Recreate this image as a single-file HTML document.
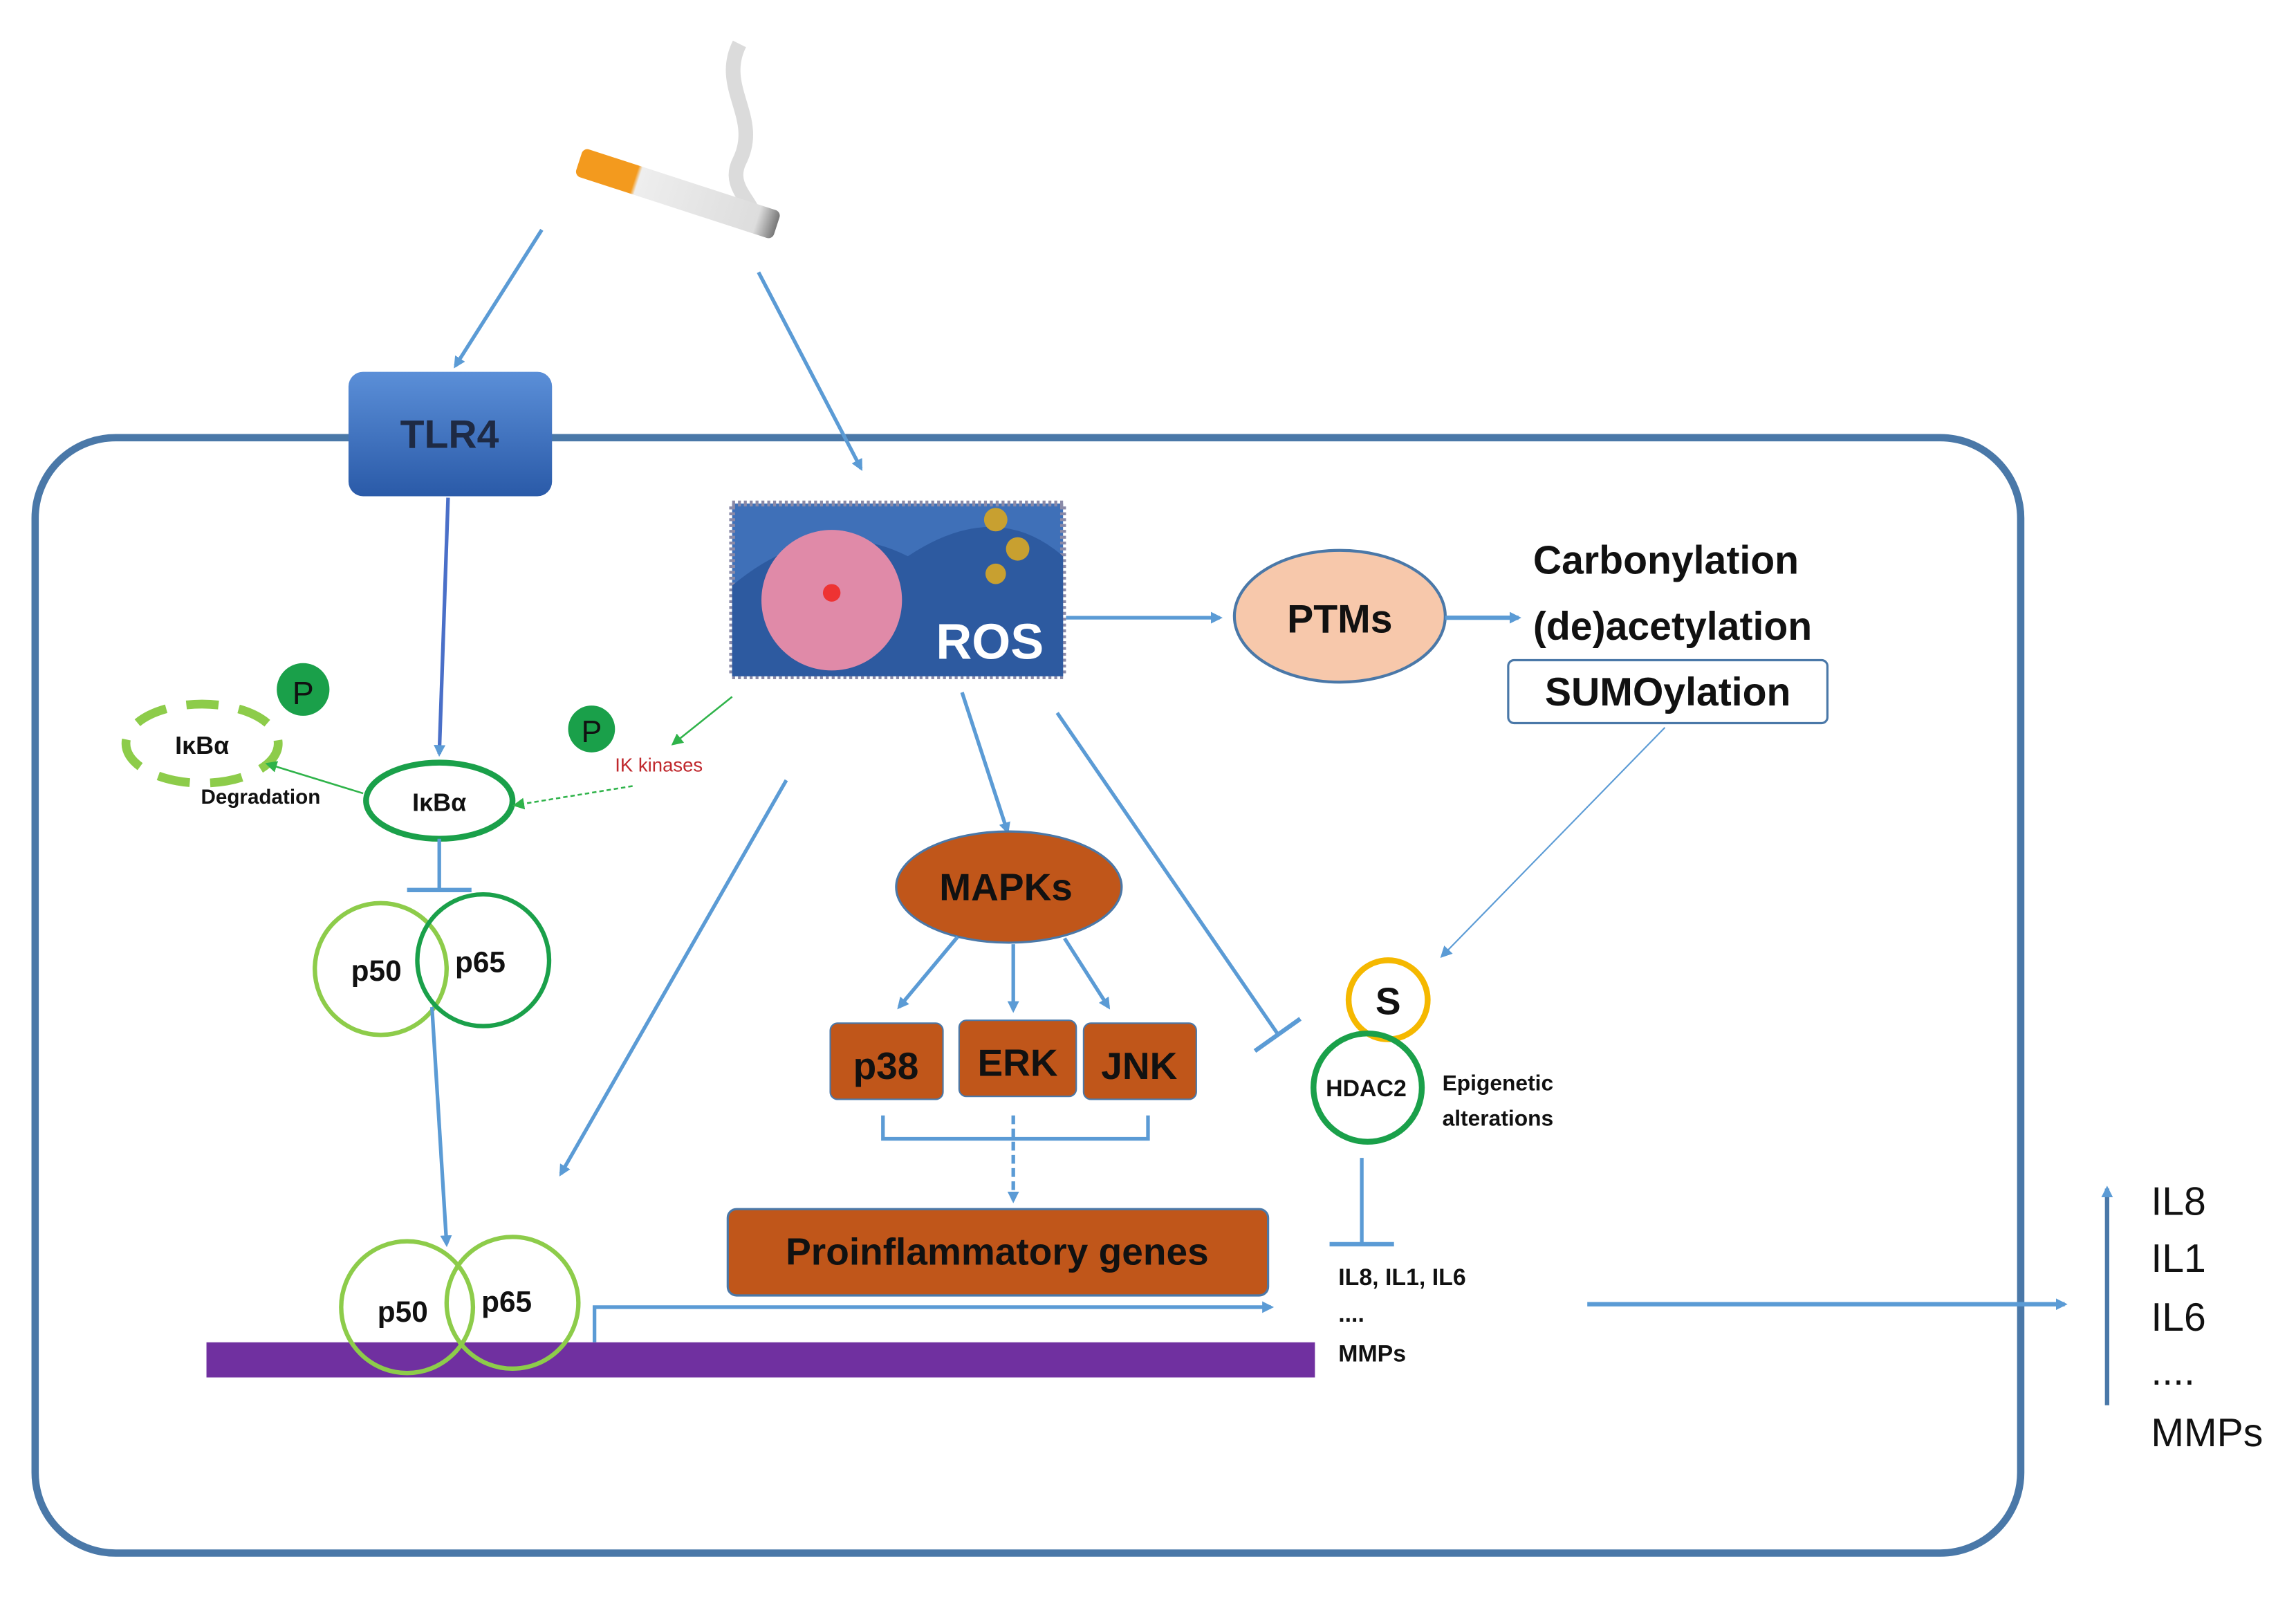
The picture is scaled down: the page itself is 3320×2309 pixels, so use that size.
<!DOCTYPE html>
<html><head><meta charset="utf-8"><style>
html,body{margin:0;padding:0;background:#fff}
svg{display:block}
text{font-family:"Liberation Sans",sans-serif}
</style></head><body>
<svg width="3320" height="2309" viewBox="0 0 1568 1091" preserveAspectRatio="none" xmlns="http://www.w3.org/2000/svg">
<defs>
<marker id="a" markerWidth="8" markerHeight="8" refX="6" refY="4" orient="auto" markerUnits="userSpaceOnUse"><path d="M0,0 L8,4 L0,8 Z" fill="#5b9bd5"/></marker>
<marker id="g" markerWidth="8" markerHeight="8" refX="6" refY="4" orient="auto" markerUnits="userSpaceOnUse"><path d="M0,0 L8,4 L0,8 Z" fill="#2fb34a"/></marker>
<linearGradient id="tl" x1="0" y1="0" x2="0" y2="1"><stop offset="0" stop-color="#5b8fd8"/><stop offset="1" stop-color="#2a5aa8"/></linearGradient>
<linearGradient id="cig" x1="0" y1="0" x2="1" y2="0"><stop offset="0" stop-color="#f39a1e"/><stop offset="0.28" stop-color="#f39a1e"/><stop offset="0.3" stop-color="#eee"/><stop offset="0.9" stop-color="#ddd"/><stop offset="1" stop-color="#777"/></linearGradient>
</defs>
<!-- cell -->
<rect x="24" y="299" width="1356" height="762" rx="55" fill="none" stroke="#4a78a8" stroke-width="5"/>
<!-- cigarette -->
<path d="M505 30 C490 60 520 80 505 110 C495 130 520 140 515 155" stroke="#ccc" stroke-width="10" fill="none" opacity="0.7"/>
<g transform="rotate(18 462 132)"><rect x="392" y="122" width="142" height="20" rx="4" fill="url(#cig)"/></g>
<!-- arrows from cigarette -->
<line x1="370" y1="157" x2="311" y2="250" stroke="#5b9bd5" stroke-width="2.5" marker-end="url(#a)"/>
<line x1="518" y1="186" x2="588" y2="320" stroke="#5b9bd5" stroke-width="2.5" marker-end="url(#a)"/>
<!-- TLR4 -->
<rect x="238" y="254" width="139" height="85" rx="10" fill="url(#tl)"/>
<text x="307" y="306" font-size="27" font-weight="bold" fill="#1e2a44" text-anchor="middle">TLR4</text>
<line x1="306" y1="340" x2="300" y2="515" stroke="#4a6fc8" stroke-width="2.5" marker-end="url(#a)"/>
<!-- ROS image -->
<rect x="500" y="344" width="226" height="118" fill="#3f70b8"/>
<rect x="500" y="344" width="226" height="118" fill="none" stroke="#8a8aa8" stroke-width="4" stroke-dasharray="2 2"/>
<path d="M500 400 Q560 350 620 380 Q680 340 726 380 L726 462 L500 462Z" fill="#2d5aa0"/>
<circle cx="568" cy="410" r="48" fill="#e08aa8"/>
<circle cx="568" cy="405" r="6" fill="#e33"/>
<circle cx="680" cy="355" r="8" fill="#c8a030"/><circle cx="695" cy="375" r="8" fill="#c8a030"/><circle cx="680" cy="392" r="7" fill="#c8a030"/>
<text x="676" y="450" font-size="34" font-weight="bold" fill="#fff" text-anchor="middle">ROS</text>
<line x1="728" y1="422" x2="833" y2="422" stroke="#5b9bd5" stroke-width="2.5" marker-end="url(#a)"/>
<!-- PTMs -->
<ellipse cx="915" cy="421" rx="72" ry="45" fill="#f7c8ab" stroke="#4a78a8" stroke-width="2"/>
<text x="915" y="432" font-size="27" font-weight="bold" fill="#111" text-anchor="middle">PTMs</text>
<line x1="987" y1="422" x2="1037" y2="422" stroke="#5b9bd5" stroke-width="3" marker-end="url(#a)"/>
<text x="1047" y="392" font-size="27" font-weight="bold" fill="#111">Carbonylation</text>
<text x="1047" y="437" font-size="27" font-weight="bold" fill="#111">(de)acetylation</text>
<rect x="1030" y="451" width="218" height="43" rx="4" fill="#fff" stroke="#4a78a8" stroke-width="1.5"/>
<text x="1139" y="482" font-size="27" font-weight="bold" fill="#111" text-anchor="middle">SUMOylation</text>
<line x1="1137" y1="497" x2="985" y2="653" stroke="#5b9bd5" stroke-width="1" marker-end="url(#a)"/>
<!-- IkBa region -->
<circle cx="207" cy="471" r="18" fill="#1aa04a"/><text x="207" y="481" font-size="22" fill="#111" text-anchor="middle">P</text>
<circle cx="404" cy="498" r="16" fill="#1aa04a"/><text x="404" y="507" font-size="21" fill="#111" text-anchor="middle">P</text>
<ellipse cx="138" cy="508" rx="52" ry="27" fill="none" stroke="#8dcc4a" stroke-width="6" stroke-dasharray="22 14"/>
<text x="138" y="515" font-size="17" font-weight="bold" fill="#111" text-anchor="middle">IκBα</text>
<text x="178" y="549" font-size="14" font-weight="bold" fill="#111" text-anchor="middle">Degradation</text>
<ellipse cx="300" cy="547" rx="50" ry="26" fill="none" stroke="#1aa04a" stroke-width="4"/>
<text x="300" y="554" font-size="17" font-weight="bold" fill="#111" text-anchor="middle">IκBα</text>
<line x1="248" y1="542" x2="183" y2="522" stroke="#2fb34a" stroke-width="1.2" marker-end="url(#g)"/>
<line x1="500" y1="476" x2="460" y2="508" stroke="#2fb34a" stroke-width="1.2" marker-end="url(#g)"/>
<line x1="432" y1="537" x2="352" y2="550" stroke="#2fb34a" stroke-width="1.2" stroke-dasharray="3 2" marker-end="url(#g)"/>
<text x="420" y="527" font-size="13" fill="#c0282d">IK kinases</text>
<line x1="300" y1="573" x2="300" y2="607" stroke="#5b9bd5" stroke-width="2.5"/>
<line x1="278" y1="608" x2="322" y2="608" stroke="#5b9bd5" stroke-width="3"/>
<circle cx="260" cy="662" r="45" fill="none" stroke="#8dcc4a" stroke-width="3"/>
<circle cx="330" cy="656" r="45" fill="none" stroke="#1aa04a" stroke-width="3"/>
<text x="257" y="670" font-size="20" font-weight="bold" fill="#111" text-anchor="middle">p50</text>
<text x="328" y="664" font-size="20" font-weight="bold" fill="#111" text-anchor="middle">p65</text>
<line x1="295" y1="688" x2="305" y2="850" stroke="#5b9bd5" stroke-width="2.5" marker-end="url(#a)"/>
<line x1="537" y1="533" x2="383" y2="802" stroke="#5b9bd5" stroke-width="2.5" marker-end="url(#a)"/>
<!-- DNA -->
<rect x="141" y="917" width="757" height="24" fill="#7030a0"/>
<circle cx="278" cy="893" r="45" fill="none" stroke="#8dcc4a" stroke-width="3"/>
<circle cx="350" cy="890" r="45" fill="none" stroke="#8dcc4a" stroke-width="3"/>
<text x="275" y="903" font-size="20" font-weight="bold" fill="#111" text-anchor="middle">p50</text>
<text x="346" y="896" font-size="20" font-weight="bold" fill="#111" text-anchor="middle">p65</text>
<polyline points="406,917 406,893 868,893" fill="none" stroke="#5b9bd5" stroke-width="2.5" marker-end="url(#a)"/>
<!-- MAPK -->
<line x1="657" y1="473" x2="688" y2="568" stroke="#5b9bd5" stroke-width="2.5" marker-end="url(#a)"/>
<ellipse cx="689" cy="606" rx="77" ry="38" fill="#c0561a" stroke="#4a78a8" stroke-width="1.5"/>
<text x="687" y="615" font-size="26" font-weight="bold" fill="#111" text-anchor="middle">MAPKs</text>
<line x1="654" y1="640" x2="614" y2="688" stroke="#5b9bd5" stroke-width="2.5" marker-end="url(#a)"/>
<line x1="692" y1="645" x2="692" y2="690" stroke="#5b9bd5" stroke-width="2.5" marker-end="url(#a)"/>
<line x1="727" y1="641" x2="757" y2="688" stroke="#5b9bd5" stroke-width="2.5" marker-end="url(#a)"/>
<rect x="567" y="699" width="77" height="52" rx="5" fill="#c0561a" stroke="#4a78a8" stroke-width="1"/>
<rect x="655" y="697" width="80" height="52" rx="5" fill="#c0561a" stroke="#4a78a8" stroke-width="1"/>
<rect x="740" y="699" width="77" height="52" rx="5" fill="#c0561a" stroke="#4a78a8" stroke-width="1"/>
<text x="605" y="737" font-size="26" font-weight="bold" fill="#111" text-anchor="middle">p38</text>
<text x="695" y="735" font-size="26" font-weight="bold" fill="#111" text-anchor="middle">ERK</text>
<text x="778" y="737" font-size="26" font-weight="bold" fill="#111" text-anchor="middle">JNK</text>
<polyline points="603,762 603,778 784,778 784,762" fill="none" stroke="#5b9bd5" stroke-width="2.5"/>
<line x1="692" y1="762" x2="692" y2="820" stroke="#5b9bd5" stroke-width="2.5" stroke-dasharray="6 3" marker-end="url(#a)"/>
<rect x="497" y="826" width="369" height="59" rx="6" fill="#c0561a" stroke="#4a78a8" stroke-width="1.5"/>
<text x="681" y="864" font-size="26" font-weight="bold" fill="#111" text-anchor="middle">Proinflammatory genes</text>
<!-- ROS inhibit HDAC2 -->
<line x1="722" y1="487" x2="873" y2="707" stroke="#5b9bd5" stroke-width="2.5"/>
<line x1="857" y1="718" x2="888" y2="696" stroke="#5b9bd5" stroke-width="3"/>
<circle cx="948" cy="683" r="27" fill="none" stroke="#f5b800" stroke-width="4"/>
<text x="948" y="693" font-size="26" font-weight="bold" fill="#111" text-anchor="middle">S</text>
<circle cx="934" cy="743" r="37" fill="none" stroke="#1aa04a" stroke-width="4"/>
<text x="933" y="749" font-size="16" font-weight="bold" fill="#111" text-anchor="middle">HDAC2</text>
<text x="985" y="745" font-size="15" font-weight="bold" fill="#111">Epigenetic</text>
<text x="985" y="769" font-size="15" font-weight="bold" fill="#111">alterations</text>
<line x1="930" y1="791" x2="930" y2="849" stroke="#5b9bd5" stroke-width="2.5"/>
<line x1="908" y1="850" x2="952" y2="850" stroke="#5b9bd5" stroke-width="3"/>
<text x="914" y="878" font-size="16" font-weight="bold" fill="#111">IL8, IL1, IL6</text>
<text x="914" y="903" font-size="16" font-weight="bold" fill="#111">....</text>
<text x="914" y="930" font-size="16" font-weight="bold" fill="#111">MMPs</text>
<line x1="1084" y1="891" x2="1410" y2="891" stroke="#5b9bd5" stroke-width="3" marker-end="url(#a)"/>
<line x1="1439" y1="960" x2="1439" y2="812" stroke="#4a78a8" stroke-width="3" marker-end="url(#a)"/>
<text x="1469" y="830" font-size="27" fill="#111">IL8</text>
<text x="1469" y="869" font-size="27" fill="#111">IL1</text>
<text x="1469" y="909" font-size="27" fill="#111">IL6</text>
<text x="1469" y="946" font-size="27" fill="#111">....</text>
<text x="1469" y="988" font-size="27" fill="#111">MMPs</text>
</svg>
</body></html>
